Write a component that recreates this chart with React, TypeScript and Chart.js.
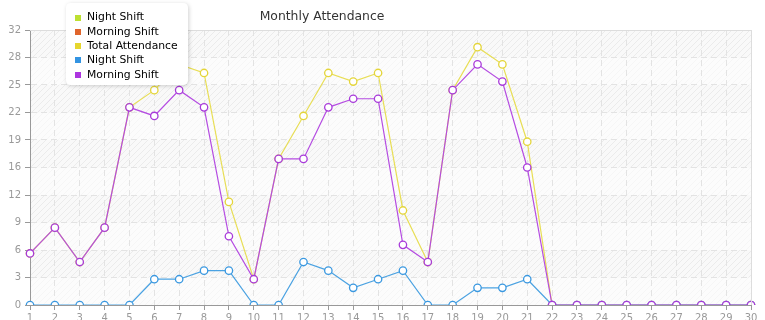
import React, { useEffect, useRef } from "react";
import { Chart, registerables } from "chart.js";

Chart.register(...registerables);

const days = ["1","2","3","4","5","6","7","8","9","10","11","12","13","14","15","16","17","18","19","20","21","22","23","24","25","26","27","28","29","30"];
const nightShift = [0,0,0,0,0,3,3,4,4,0,0,5,4,2,3,4,0,0,2,2,3,0,0,0,0,0,0,0,0,0];
const morningShift = [6,9,5,9,23,22,25,23,8,3,17,17,23,24,24,7,5,25,28,26,16,0,0,0,0,0,0,0,0,0];
const totalAttendance = [6,9,5,9,23,25,28,27,12,3,17,22,27,26,27,11,5,25,30,28,19,0,0,0,0,0,0,0,0,0];
const yTickLabels = ["0","3","6","9","12","16","19","22","25","28","32"];
const legendLabels = ["Night Shift","Morning Shift","Total Attendance","Night Shift","Morning Shift"];
const legendColors = ["#bde031","#e0652c","#e6d62e","#3394e2","#ad35e0"];
const chartTitle = "Monthly Attendance";

const FONT = "'DejaVu Sans', Verdana, sans-serif";

const bgPlugin = {
  id: "bgPlugin",
  beforeDraw(chart: any) {
    const { ctx, chartArea: a } = chart;
    ctx.save();
    ctx.fillStyle = "#ffffff";
    ctx.fillRect(0, 0, chart.width, chart.height);
    const p = document.createElement("canvas");
    p.width = 6; p.height = 6;
    const pc = p.getContext("2d")!;
    pc.fillStyle = "#f9f9f9";
    pc.fillRect(0, 0, 6, 6);
    pc.strokeStyle = "#ebebeb";
    pc.lineWidth = 1;
    pc.beginPath();
    pc.moveTo(-1, 7); pc.lineTo(7, -1);
    pc.moveTo(-1, 1); pc.lineTo(1, -1);
    pc.moveTo(5, 7); pc.lineTo(7, 5);
    pc.stroke();
    const pat = ctx.createPattern(p, "repeat");
    ctx.fillStyle = pat;
    ctx.fillRect(a.left, a.top, a.right - a.left, a.bottom - a.top);
    const ys = chart.scales.y;
    const n = yTickLabels.length - 1;
    for (let i = 0; i < n; i++) {
      const fromTop = n - 1 - i;
      if (fromTop % 2 === 1) {
        const y1 = ys.getPixelForValue(ys.ticks[i].value);
        const y2 = ys.getPixelForValue(ys.ticks[i + 1].value);
        ctx.fillStyle = "rgba(255,255,255,0.55)";
        ctx.fillRect(a.left, y2, a.right - a.left, y1 - y2);
      }
    }
    ctx.restore();
  },
  afterDraw(chart: any) {
    const { ctx, chartArea: a } = chart;
    ctx.save();
    ctx.strokeStyle = "#dddddd";
    ctx.lineWidth = 1;
    ctx.beginPath();
    ctx.moveTo(a.left, a.top + 0.5);
    ctx.lineTo(a.right + 0.5, a.top + 0.5);
    ctx.lineTo(a.right + 0.5, a.bottom);
    ctx.stroke();
    ctx.fillStyle = "#333333";
    ctx.font = `12.4px ${FONT}`;
    ctx.textAlign = "center";
    ctx.textBaseline = "middle";
    ctx.fillText(chartTitle, 322, 17);
    const bx = 66, by = 3, bw = 122, bh = 82, r = 5;
    ctx.shadowColor = "rgba(0,0,0,0.18)";
    ctx.shadowBlur = 4;
    ctx.shadowOffsetX = 1;
    ctx.shadowOffsetY = 1;
    ctx.fillStyle = "#ffffff";
    ctx.beginPath();
    ctx.moveTo(bx + r, by);
    ctx.lineTo(bx + bw - r, by);
    ctx.quadraticCurveTo(bx + bw, by, bx + bw, by + r);
    ctx.lineTo(bx + bw, by + bh - r);
    ctx.quadraticCurveTo(bx + bw, by + bh, bx + bw - r, by + bh);
    ctx.lineTo(bx + r, by + bh);
    ctx.quadraticCurveTo(bx, by + bh, bx, by + bh - r);
    ctx.lineTo(bx, by + r);
    ctx.quadraticCurveTo(bx, by, bx + r, by);
    ctx.closePath();
    ctx.fill();
    ctx.shadowColor = "transparent";
    ctx.shadowBlur = 0;
    ctx.shadowOffsetX = 0;
    ctx.shadowOffsetY = 0;
    ctx.font = `10.8px ${FONT}`;
    ctx.textAlign = "left";
    ctx.textBaseline = "middle";
    chart.data.datasets.forEach((ds: any, i: number) => {
      const y = 17.5 + i * 14.3;
      ctx.fillStyle = ds.legendColor;
      ctx.fillRect(75, Math.round(y - 3), 6, 6);
      ctx.fillStyle = "#000000";
      ctx.fillText(ds.label, 87, y);
    });
    ctx.restore();
  },
};

export default function App() {
  const ref = useRef<HTMLCanvasElement>(null);
  useEffect(() => {
    document.body.style.margin = "0";
    const canvas = ref.current!;
    const nulls = days.map(() => null);
    const chart = new Chart(canvas, {
      type: "line",
      data: {
        labels: days,
        datasets: [
          { label: legendLabels[0], data: nulls, legendColor: legendColors[0], borderColor: legendColors[0], order: 5 } as any,
          { label: legendLabels[1], data: nulls, legendColor: legendColors[1], borderColor: legendColors[1], order: 4 } as any,
          {
            label: legendLabels[2], data: totalAttendance, legendColor: legendColors[2],
            borderColor: "#e8de55", pointBorderColor: "#e4d53a", order: 3,
          } as any,
          {
            label: legendLabels[3], data: nightShift, legendColor: legendColors[3],
            borderColor: "#4aa2e2", pointBorderColor: "#3a98e0", order: 2,
          } as any,
          {
            label: legendLabels[4], data: morningShift, legendColor: legendColors[4],
            borderColor: "#b54ce2", pointBorderColor: "#a83ada", order: 1,
          } as any,
        ],
      },
      options: {
        animation: false,
        responsive: false,
        devicePixelRatio: 1,
        layout: { padding: { top: 30, right: 14, left: 0, bottom: 0 } },
        elements: {
          line: { borderWidth: 1.2, tension: 0 },
          point: { radius: 3.7, borderWidth: 1.3, backgroundColor: "#ffffff", hoverRadius: 3.7 },
        },
        plugins: {
          legend: { display: false },
          title: { display: false },
          tooltip: { enabled: false },
        },
        scales: {
          x: {
            type: "category",
            offset: false,
            grid: {
              color: "#e3e3e3",
              tickColor: "#999999",
              tickLength: 5,
              tickBorderDash: [],
            },
            border: { display: true, color: "#999999", width: 1, dash: [6, 4] },
            ticks: {
              color: "#999999",
              font: { family: FONT, size: 10 },
              padding: 2,
              maxRotation: 0,
              autoSkip: false,
            },
            afterFit: (s: any) => { s.height = 25; },
          },
          y: {
            type: "linear",
            min: 0,
            max: 32,
            afterBuildTicks: (s: any) => {
              s.ticks = yTickLabels.map((_, i) => ({ value: i * 3.2 }));
            },
            grid: {
              color: "#e3e3e3",
              tickColor: "#999999",
              tickLength: 5,
              tickBorderDash: [],
            },
            border: { display: true, color: "#999999", width: 1, dash: [6, 4] },
            ticks: {
              color: "#999999",
              font: { family: FONT, size: 10 },
              padding: 4,
              callback: (_v: any, i: number) => yTickLabels[i],
            },
            afterFit: (s: any) => { s.width = 30; },
          },
        },
      } as any,
      plugins: [bgPlugin],
    });
    return () => chart.destroy();
  }, []);
  return (
    <div style={{ width: 765, height: 330 }}>
      <canvas ref={ref} width={765} height={330} style={{ display: "block" }} />
    </div>
  );
}
